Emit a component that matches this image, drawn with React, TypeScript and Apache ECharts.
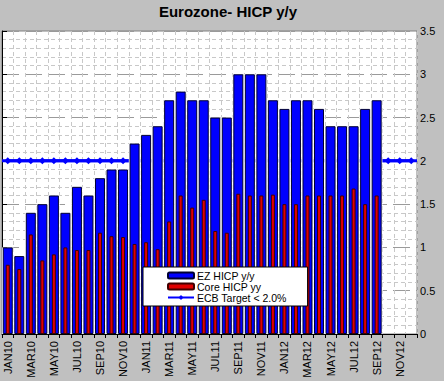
import React, { useEffect, useRef } from "react";
import * as echarts from "echarts";

const categories = [
  "JAN10", "FEB10", "MAR10", "APR10", "MAY10", "JUN10", "JUL10", "AUG10", "SEP10", "OCT10", "NOV10", "DEC10",
  "JAN11", "FEB11", "MAR11", "APR11", "MAY11", "JUN11", "JUL11", "AUG11", "SEP11", "OCT11", "NOV11", "DEC11",
  "JAN12", "FEB12", "MAR12", "APR12", "MAY12", "JUN12", "JUL12", "AUG12", "SEP12", "OCT12", "NOV12", "DEC12",
];

const ezHicp = [
  1.0, 0.9, 1.4, 1.5, 1.6, 1.4, 1.7, 1.6, 1.8, 1.9, 1.9, 2.2,
  2.3, 2.4, 2.7, 2.8, 2.7, 2.7, 2.5, 2.5, 3.0, 3.0, 3.0, 2.7,
  2.6, 2.7, 2.7, 2.6, 2.4, 2.4, 2.4, 2.6, 2.7,
];

const coreHicp = [
  0.8, 0.75, 1.15, 0.85, 0.92, 1.0, 0.97, 0.97, 1.17, 1.13, 1.12, 1.04,
  1.06, 0.98, 1.3, 1.6, 1.46, 1.55, 1.19, 1.17, 1.62, 1.6, 1.6, 1.61,
  1.5, 1.5, 1.6, 1.6, 1.6, 1.6, 1.68, 1.5, 1.6,
];

const ecbTarget = [
  2.0, 2.0, 2.0, 2.0, 2.0, 2.0, 2.0, 2.0, 2.0, 2.0, 2.0, 2.0,
  2.0, 2.0, 2.0, 2.0, 2.0, 2.0, 2.0, 2.0, 2.0, 2.0, 2.0, 2.0,
  2.0, 2.0, 2.0, 2.0, 2.0, 2.0, 2.0, 2.0, 2.0, 2.0, 2.0, 2.0,
];
const ecbTargetLevel = 2.0;

const seriesNames = ["EZ HICP y/y", "Core HICP yy", "ECB Target < 2.0%"];
const titleText = "Eurozone- HICP y/y";

const FONT = "Arial, 'Liberation Sans', sans-serif";

export default function App() {
  const ref = useRef<HTMLDivElement>(null);

  useEffect(() => {
    if (!ref.current) return;
    const chart = echarts.init(ref.current, null, { renderer: "svg" });
    chart.setOption({
      animation: false,
      backgroundColor: "#c0c0c0",
      textStyle: { fontFamily: FONT },
      graphic: [
        {
          type: "text",
          x: 228,
          y: 11.5,
          zlevel: 3,
          z: 10,
          style: {
            text: titleText,
            fontFamily: FONT,
            fontSize: 15,
            fontWeight: "bold",
            fill: "#000",
            textAlign: "center",
            textVerticalAlign: "middle",
          },
        },
      ],
      legend: {
        orient: "vertical",
        left: 143,
        top: 267,
        zlevel: 3,
        z: 10,
        selectedMode: false,
        backgroundColor: "#fff",
        borderColor: "#000",
        borderWidth: 1,
        borderRadius: 0,
        padding: [3, 21, 3, 24],
        itemGap: 0,
        itemWidth: 26,
        itemHeight: 6,
        textStyle: { fontFamily: FONT, fontSize: 10.5, color: "#000", lineHeight: 10, padding: [0, 0, 0, -2] },
        data: seriesNames,
      },
      grid: {
        left: 2,
        right: 27,
        top: 31,
        bottom: 47,
        show: true,
        backgroundColor: "#fff",
        borderColor: "#808080",
        borderWidth: 1,
      },
      xAxis: [
        {
          type: "category",
          data: categories,
          boundaryGap: true,
          position: "bottom",
          axisLine: { show: true, lineStyle: { color: "#000", width: 1 } },
          axisTick: { show: true, interval: 0, length: 4, lineStyle: { color: "#000" } },
          axisLabel: {
            interval: 1,
            rotate: 90,
            margin: 7,
            fontSize: 11,
            fontFamily: FONT,
            color: "#000",
          },
          splitLine: {
            show: true,
            interval: 0,
            lineStyle: { color: "#c8c8c8", type: [4, 3], width: 1 },
          },
        },
        { type: "category", data: categories, show: false, boundaryGap: true },
        { type: "value", min: 0, max: 1, show: false },
        { type: "category", data: categories, show: false, boundaryGap: true },
      ],
      yAxis: {
        type: "value",
        position: "right",
        min: 0,
        max: 3.5,
        interval: 0.5,
        axisLine: { show: true, lineStyle: { color: "#000", width: 1 } },
        axisTick: { show: true, length: 5, lineStyle: { color: "#000" } },
        axisLabel: { fontSize: 11, fontFamily: FONT, color: "#000", margin: 3 },
        splitLine: { show: true, lineStyle: { color: "#9a9a9a", type: [17, 6], width: 1 } },
        minorTick: { show: false, splitNumber: 5 },
        minorSplitLine: { show: true, lineStyle: { color: "#c8c8c8", type: [4, 3], width: 1 } },
      },
      series: [
        {
          name: "ecb-full-width",
          type: "line",
          xAxisIndex: 2,
          data: [[0, ecbTargetLevel], [1, ecbTargetLevel]],
          zlevel: 1,
          z: 1,
          symbol: "none",
          silent: true,
          lineStyle: { color: "#0000ff", width: 3 },
        },
        {
          name: seriesNames[2],
          type: "line",
          xAxisIndex: 0,
          data: ecbTarget,
          zlevel: 1,
          z: 2,
          symbol: "diamond",
          symbolSize: 7,
          lineStyle: { color: "#0000ff", width: 3 },
          itemStyle: { color: "#0000ff" },
        },
        {
          name: "ez-backing",
          type: "bar",
          xAxisIndex: 3,
          data: ezHicp,
          barCategoryGap: "0%",
          silent: true,
          zlevel: 2,
          z: 2,
          itemStyle: { color: "#ffffff", borderWidth: 0 },
        },
        {
          name: seriesNames[0],
          type: "bar",
          xAxisIndex: 0,
          data: ezHicp,
          barWidth: 10,
          zlevel: 2,
          z: 3,
          itemStyle: { color: "#0000ff", borderColor: "#000033", borderWidth: 1 },
        },
        {
          name: seriesNames[1],
          type: "bar",
          xAxisIndex: 1,
          data: coreHicp,
          barWidth: 4,
          zlevel: 2,
          z: 4,
          itemStyle: { color: "#e00000", borderColor: "#400000", borderWidth: 1 },
        },
      ],
    });
    return () => chart.dispose();
  }, []);

  return (
    <div
      ref={ref}
      style={{ position: "fixed", left: 0, top: 0, width: 444, height: 381 }}
    />
  );
}
